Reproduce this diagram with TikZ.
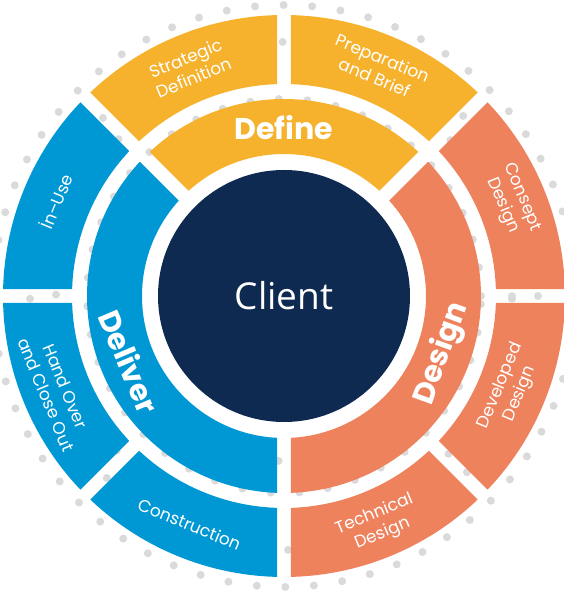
\documentclass[tikz,border=0pt]{standalone}
\usepackage{fontspec}
\setmainfont{Poppins}
\newfontfamily\clientfont{Open Sans}
\usepackage{tikz}
\usetikzlibrary{positioning}
\definecolor{defyel}{HTML}{F6B22C}
\definecolor{desorg}{HTML}{EE825D}
\definecolor{delblu}{HTML}{0098D4}
\definecolor{clnavy}{HTML}{0F2A50}
\definecolor{dotgray}{HTML}{DADADA}
\def\gap{7}
% ring piece: colour, inner r, outer r, start angle, end angle
\newcommand{\ringpart}[5]{%
  \fill[#1] ({#4+asin(\gap/#3)}:#3) arc[start angle={#4+asin(\gap/#3)},end angle={#5-asin(\gap/#3)},radius=#3]
    -- ({#5-asin(\gap/#2)}:#2) arc[start angle={#5-asin(\gap/#2)},end angle={#4+asin(\gap/#2)},radius=#2] -- cycle;}
\tikzset{
  stage/.style  ={text=white,inner sep=0pt,font=\bfseries\fontsize{30}{30}\selectfont},
  phase/.style  ={text=white,inner sep=0pt,align=center,font=\fontsize{17}{21}\selectfont},
  dotring/.style={dotgray,line width=8pt,line cap=round,dash pattern=on 0pt off 28.6pt},
  client/.style ={circle,fill=clnavy,minimum size=252pt,inner sep=0pt,text=white,font=\clientfont\fontsize{37}{37}\selectfont},
}

\begin{document}
\begin{tikzpicture}[x=1pt,y=1pt]
  \useasboundingbox (-284,-297) rectangle (279,296);
  % dots behind the rings
  \foreach \r in {165,197,228,254,291}{\draw[dotring] (0,0) circle[radius=\r];}
  % outer ring
  \foreach \a/\c in {0/desorg,45/defyel,90/defyel,135/delblu,180/delblu,225/delblu,270/desorg,315/desorg}{\ringpart{\c}{212}{281}{\a}{\a+45}}
  % inner ring
  \ringpart{defyel}{142}{197}{45}{135}
  \ringpart{delblu}{142}{197}{135}{270}
  \ringpart{desorg}{142}{197}{-90}{45}
  \node[client] (client) at (0,0) {Client};
  \node[stage] (define) at (90:168) {Define};
  \node[stage,rotate=70] (design) at (-20:168) {Design};
  \node[stage,rotate=-67] (deliver) at (-157:168) {Deliver};
  \node[phase,rotate=22.5] (strategic) at (112.5:247) {Strategic\\Definition};
  \node[phase,rotate=-22.5] (preparation) at (67.5:247) {Preparation\\and Brief};
  \node[phase,rotate=-67.5] (consept) at (22.5:247) {Consept\\Design};
  \node[phase,rotate=67.5] (developed) at (-22.5:245) {Developed\\Design};
  \node[phase,rotate=22.5] (technical) at (-67.5:247) {Technical\\Design};
  \node[phase,rotate=-22.5] (construction) at (-112.5:247) {Construction};
  \node[phase,rotate=-67.5] (handover) at (-157.5:247) {Hand Over\\and Close Out};
  \node[phase,rotate=67.5] (inuse) at (157.5:247) {İn–Use};
\end{tikzpicture}
\end{document}
